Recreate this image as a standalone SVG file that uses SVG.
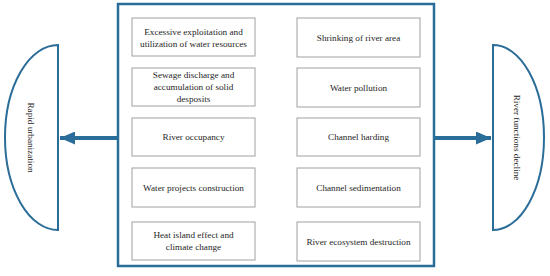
<svg xmlns="http://www.w3.org/2000/svg" width="550" height="276" viewBox="0 0 550 276">
<style>
.frame{fill:#fff;stroke:#2b6d99;stroke-width:2.5}
.box{fill:#fff;stroke:#a0a0a0;stroke-width:1}
.end{fill:#fff;stroke:#2b6d99;stroke-width:2}
.t{font-family:'Liberation Serif','DejaVu Serif',serif;font-size:9.2px;fill:#262626;text-anchor:middle}
.conn{stroke:#2b6d99;stroke-width:4;fill:none}
</style>
<defs>
<marker id="ah" markerUnits="userSpaceOnUse" markerWidth="15" markerHeight="13" refX="15" refY="6.5" orient="auto">
<path d="M0,0 L15,6.5 L0,13 Z" fill="#2b6d99"/>
</marker>
</defs>
<rect width="550" height="276" fill="#fff"/>
<g id="frame"><rect class="frame" x="118" y="4" width="316" height="262"/></g>
<g id="connectors">
<line class="conn" x1="117" y1="138" x2="60" y2="138" marker-end="url(#ah)"/>
<line class="conn" x1="435" y1="138" x2="491" y2="138" marker-end="url(#ah)"/>
</g>
<g class="t" font-family="Liberation Serif, serif">
<g id="rapid-urbanization">
<path class="end" d="M58,45 L58,230 A53,92.5 0 0 1 58,45 Z"/>
<text transform="translate(31,137.5) rotate(90)" y="3">Rapid urbanization</text>
</g>
<g id="river-functions-decline">
<path class="end" d="M493,45 L493,230 A51,92.5 0 0 0 493,45 Z"/>
<text transform="translate(517,137.5) rotate(90)" y="3">River functions decline</text>
</g>
<g id="l1"><rect class="box" x="132" y="18" width="123" height="38"/><text x="193.5" y="34.5">Excessive exploitation and</text><text x="193.5" y="46.5">utilization of water resources</text></g>
<g id="l2"><rect class="box" x="132" y="68" width="123" height="38"/><text x="193.5" y="78">Sewage discharge and</text><text x="193.5" y="90">accumulation of solid</text><text x="193.5" y="102">desposits</text></g>
<g id="l3"><rect class="box" x="132" y="118" width="123" height="38"/><text x="193.5" y="140">River occupancy</text></g>
<g id="l4"><rect class="box" x="132" y="168" width="123" height="39"/><text x="193.5" y="190.5">Water projects construction</text></g>
<g id="l5"><rect class="box" x="132" y="222" width="123" height="38"/><text x="193.5" y="238">Heat island effect and</text><text x="193.5" y="250">climate change</text></g>
<g id="r1"><rect class="box" x="297" y="18" width="123" height="39"/><text x="358.5" y="40.5">Shrinking of river area</text></g>
<g id="r2"><rect class="box" x="297" y="68" width="123" height="39"/><text x="358.5" y="90.5">Water pollution</text></g>
<g id="r3"><rect class="box" x="297" y="118" width="123" height="38"/><text x="358.5" y="140">Channel harding</text></g>
<g id="r4"><rect class="box" x="297" y="168" width="123" height="39"/><text x="358.5" y="190.5">Channel sedimentation</text></g>
<g id="r5"><rect class="box" x="297" y="222" width="123" height="39"/><text x="358.5" y="244.5">River ecosystem destruction</text></g>
</g>
</svg>
